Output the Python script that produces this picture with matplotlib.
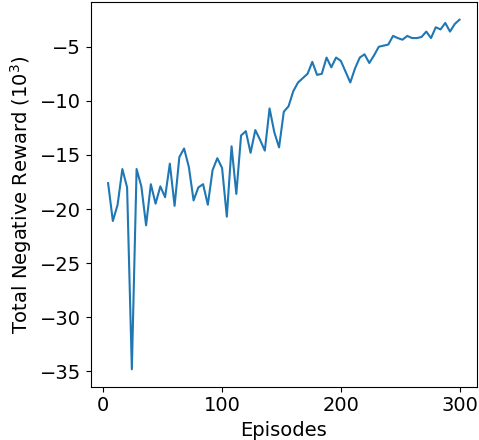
import numpy as np
from matplotlib import pyplot as plt

# episodes sampled every 4
episodes = np.arange(4, 301, 4)

# total negative reward (x 10^3)
reward = [
    -17.6, -21.1, -19.6, -16.3, -18.0, -34.8, -16.3, -17.9, -21.5, -17.7,
    -19.5, -17.9, -18.9, -15.8, -19.7, -15.2, -14.4, -16.1, -19.2, -18.0,
    -17.7, -19.6, -16.4, -15.3, -16.2, -20.7, -14.2, -18.6, -13.2, -12.8,
    -14.8, -12.7, -13.6, -14.6, -10.7, -12.9, -14.3, -11.0, -10.5, -9.1,
    -8.3, -7.9, -7.5, -6.4, -7.6, -7.5, -6.0, -6.9, -6.0, -6.3,
    -7.3, -8.3, -7.0, -6.0, -5.7, -6.5, -5.8, -5.0, -4.9, -4.8,
    -4.0, -4.2, -4.35, -4.0, -4.2, -4.2, -4.1, -3.6, -4.2, -3.2,
    -3.4, -2.8, -3.6, -2.9, -2.5,
]

fig = plt.figure(figsize=(4.79, 4.4), dpi=100)
ax = fig.add_axes([0.189, 0.121, 0.807, 0.874])
ax.plot(episodes, reward, color='tab:blue', linewidth=1.5)

ax.set_xlabel('Episodes', fontsize=14)
ax.set_ylabel('Total Negative Reward ($10^3$)', fontsize=14)
ax.tick_params(labelsize=14)
ax.set_xticks([0, 100, 200, 300])
ax.set_yticks([-35, -30, -25, -20, -15, -10, -5])

fig.savefig('out.png', dpi=100)
